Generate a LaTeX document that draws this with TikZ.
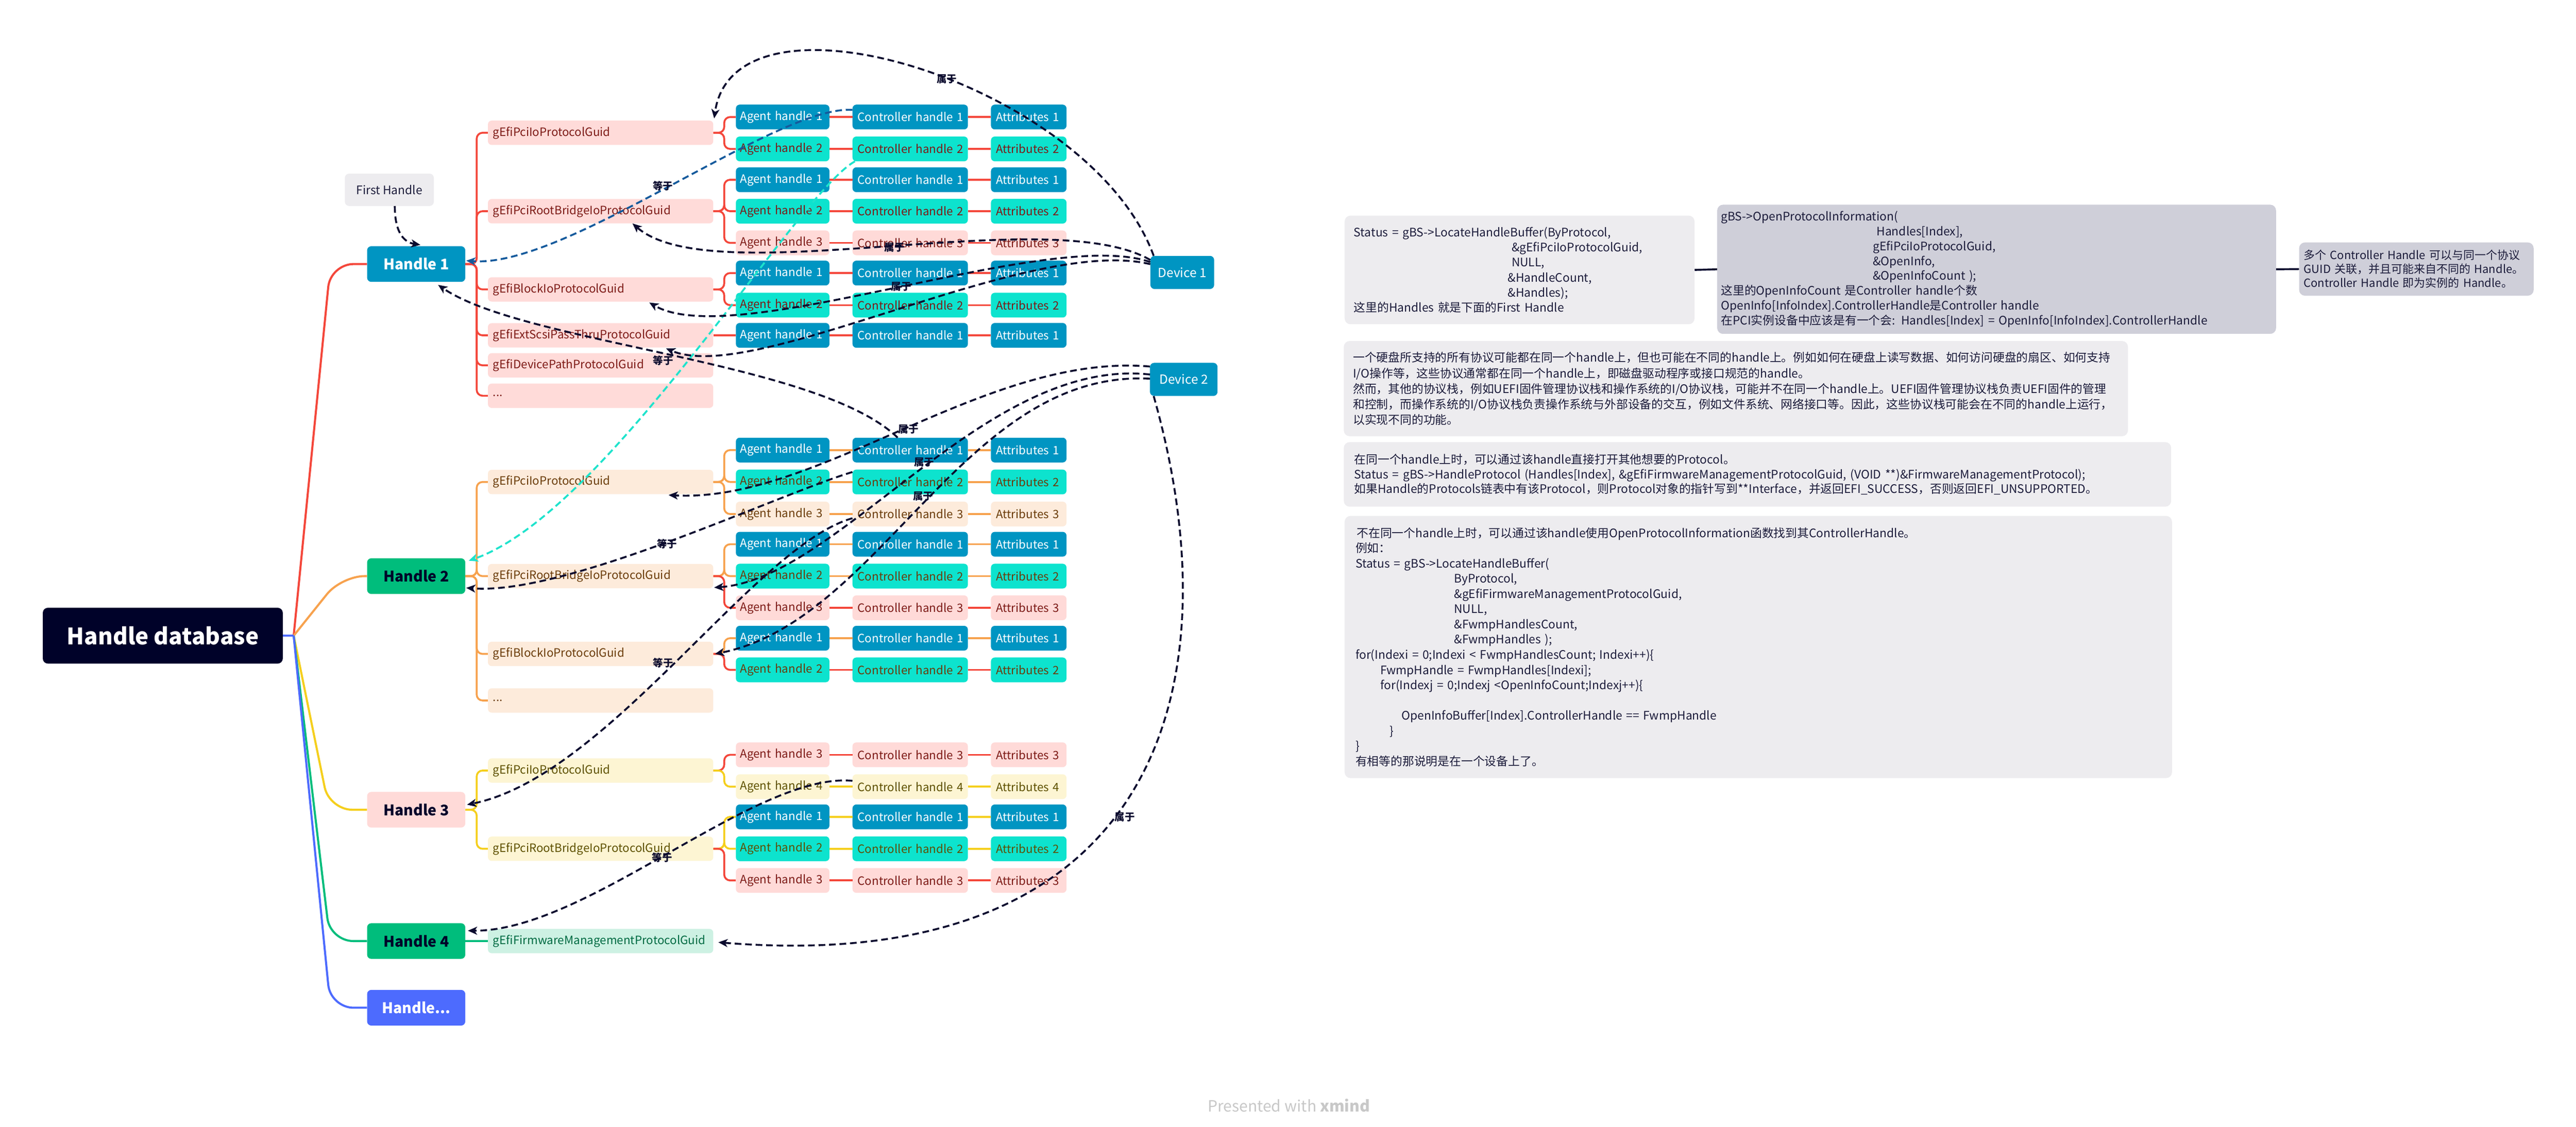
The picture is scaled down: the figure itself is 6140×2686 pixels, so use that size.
\documentclass[tikz,border=0pt]{standalone}
\usepackage{fontspec}
\setmainfont{Noto Sans CJK SC}
\usetikzlibrary{arrows.meta,calc}
\definecolor{navy}{HTML}{000229}
\definecolor{ink}{HTML}{1B1B3A}
\definecolor{relc}{HTML}{0B0B2E}
\definecolor{hblue}{HTML}{0095C2}
\definecolor{hgreen}{HTML}{00BD7C}
\definecolor{hpink}{HTML}{FFDAD8}
\definecolor{hmore}{HTML}{4D6BFE}
\definecolor{tealbox}{HTML}{0DE3CE}
\definecolor{lred}{HTML}{F4473B}
\definecolor{lorange}{HTML}{F7A24E}
\definecolor{lyellow}{HTML}{F5CF1D}
\definecolor{lgreen}{HTML}{00BD7C}
\definecolor{lblue}{HTML}{4D6BFE}
\definecolor{gfa}{HTML}{FFDBD9}
\definecolor{gfb}{HTML}{FDEBDB}
\definecolor{gfc}{HTML}{FDF5D3}
\definecolor{gfd}{HTML}{CDF1E3}
\definecolor{tca}{HTML}{7D1A16}
\definecolor{tcb}{HTML}{6B3C0A}
\definecolor{tcc}{HTML}{5E5000}
\definecolor{tcd}{HTML}{006A42}
\definecolor{boxl}{HTML}{EDECEF}
\definecolor{boxd}{HTML}{CFCFD9}
\definecolor{relblue}{HTML}{155A9C}
\definecolor{relcyan}{HTML}{1EE3CC}
\definecolor{wm}{HTML}{C8C8C8}
\tikzset{
 conn/.style={line width=4.5pt},
 rootline/.style={line width=5pt, rounded corners=55pt},
 spine/.style={line width=4.5pt, rounded corners=14pt},
 nbox/.style={rectangle, rounded corners=9pt, inner sep=0pt, font=\fontsize{27.5}{33}\selectfont, align=left},
 agentbox/.style={nbox, inner xsep=10pt, text width=203pt, minimum height=59pt},
 ctrlbox/.style={nbox, inner xsep=12pt, text width=251pt, minimum height=59pt},
 attrbox/.style={nbox, inner xsep=12pt, text width=156pt, minimum height=59pt},
 guidbox/.style={nbox, inner xsep=12pt, text width=513pt, minimum height=58pt},
 hbox/.style={rectangle, rounded corners=10pt, inner sep=0pt, minimum width=234pt, minimum height=85pt, font=\bfseries\fontsize{35}{38}\selectfont},
 devbox/.style={rectangle, rounded corners=10pt, inner sep=0pt, fill=hblue, text=white, minimum height=79pt, font=\fontsize{30}{32}\selectfont},
 tbox/.style={rectangle, rounded corners=14pt, inner ysep=0pt, align=left, text=ink, font=\fontsize{28}{36}\selectfont},
 rel/.style={draw=relc, line width=4.5pt, dash pattern=on 16pt off 9pt, -{Stealth[length=22pt,width=19pt,inset=6pt]}},
 rlab/.style={font=\bfseries\fontsize{24}{24}\selectfont, text=relc, inner sep=1pt},
}
\newcommand\mkrow[6]{%
 \node[agentbox,fill=#3,text=#4] (a#1) at (1865.5,#2) {\mbox{Agent handle #5}};
 \node[ctrlbox,fill=#3,text=#4] (c#1) at (2169.5,#2) {\mbox{Controller handle #5}};
 \node[attrbox,fill=#3,text=#4] (t#1) at (2452,#2) {\mbox{Attributes #5}};
 \draw[conn,draw=#6] (a#1.east) -- (c#1.west);
 \draw[conn,draw=#6] (c#1.east) -- (t#1.west);
}
\begin{document}
\begin{tikzpicture}[x=1pt,y=-1pt]
\useasboundingbox (0,0) rectangle (6140,2686);
\fill[white] (0,0) rectangle (6140,2686);

% root and handles
\node[rectangle, rounded corners=12pt, fill=navy, text=white, minimum width=572pt, minimum height=133pt, font=\bfseries\fontsize{54}{58}\selectfont] (root) at (388,1515.5) {Handle database};
\coordinate (rb) at (700,1515.5);
\node[hbox, fill=hblue, text=white] (h1) at (992,629.5) {Handle 1};
\node[hbox, fill=hgreen, text=navy] (h2) at (992,1373.5) {Handle 2};
\node[hbox, fill=hpink, text=navy] (h3) at (992,1930.5) {Handle 3};
\node[hbox, fill=hgreen, text=navy] (h4) at (992,2243.5) {Handle 4};
\node[hbox, fill=hmore, text=white] (h5) at (992,2402.5) {Handle...};
\node[rectangle, rounded corners=10pt, fill=boxl, text=ink, minimum width=212pt, minimum height=77pt, font=\fontsize{28}{30}\selectfont] (fh) at (928,452.5) {First Handle};

\draw[rootline,lred] (rb) -- ($(h1.west)+(-87,0)$) -- (h1.west);
\draw[rootline,lorange] (rb) -- ($(h2.west)+(-61,0)$) -- (h2.west);
\draw[rootline,lyellow] (rb) -- ($(h3.west)+(-90,0)$) -- (h3.west);
\draw[rootline,lgreen] (rb) -- ($(h4.west)+(-88,0)$) -- (h4.west);
\draw[rootline,lblue] (rb) -- ($(h5.west)+(-87,0)$) -- (h5.west);
\draw[line width=5pt,lblue] (root.east) -- (rb);

% GUID nodes
\node[guidbox,fill=gfa,text=tca] (g1a) at (1431.5,316.5) {gEfiPciIoProtocolGuid};
\node[guidbox,fill=gfa,text=tca] (g1b) at (1431.5,503.5) {gEfiPciRootBridgeIoProtocolGuid};
\node[guidbox,fill=gfa,text=tca] (g1c) at (1431.5,690) {gEfiBlockIoProtocolGuid};
\node[guidbox,fill=gfa,text=tca] (g1d) at (1431.5,799.5) {gEfiExtScsiPassThruProtocolGuid};
\node[guidbox,fill=gfa,text=tca] (g1e) at (1431.5,871) {gEfiDevicePathProtocolGuid};
\node[guidbox,fill=gfa,text=tca] (g1f) at (1431.5,943.5) {...};
\node[guidbox,fill=gfb,text=tcb] (g2a) at (1431.5,1149) {gEfiPciIoProtocolGuid};
\node[guidbox,fill=gfb,text=tcb] (g2b) at (1431.5,1373.5) {gEfiPciRootBridgeIoProtocolGuid};
\node[guidbox,fill=gfb,text=tcb] (g2c) at (1431.5,1559) {gEfiBlockIoProtocolGuid};
\node[guidbox,fill=gfb,text=tcb] (g2d) at (1431.5,1670) {...};
\node[guidbox,fill=gfc,text=tcc] (g3a) at (1431.5,1837) {gEfiPciIoProtocolGuid};
\node[guidbox,fill=gfc,text=tcc] (g3b) at (1431.5,2023.5) {gEfiPciRootBridgeIoProtocolGuid};
\node[guidbox,fill=gfd,text=tcd] (g4a) at (1431.5,2243.5) {gEfiFirmwareManagementProtocolGuid};

\foreach \g in {g1a,g1b,g1c,g1d,g1e,g1f}{\draw[spine,lred] (h1.east) -- ++(27,0) |- (\g.west);}
\foreach \g in {g2a,g2b,g2c,g2d}{\draw[spine,lorange] (h2.east) -- ++(27,0) |- (\g.west);}
\foreach \g in {g3a,g3b}{\draw[spine,lyellow] (h3.east) -- ++(27,0) |- (\g.west);}
\draw[spine,lgreen] (h4.east) -- (g4a.west);

% rows
\mkrow{11}{279}{hblue}{white}{1}{lred}
\mkrow{12}{355}{tealbox}{tca}{2}{lred}
\mkrow{13}{428.5}{hblue}{white}{1}{lred}
\mkrow{14}{503.5}{tealbox}{tca}{2}{lred}
\mkrow{15}{579}{hpink}{tca}{3}{lred}
\mkrow{16}{651}{hblue}{white}{1}{lred}
\mkrow{17}{727.5}{tealbox}{tca}{2}{lred}
\mkrow{18}{799.5}{hblue}{white}{1}{lred}
\mkrow{21}{1073}{hblue}{white}{1}{lorange}
\mkrow{22}{1149}{tealbox}{tcb}{2}{lorange}
\mkrow{23}{1225.5}{gfb}{tcb}{3}{lorange}
\mkrow{24}{1297.5}{hblue}{white}{1}{lorange}
\mkrow{25}{1373.5}{tealbox}{tcb}{2}{lorange}
\mkrow{26}{1449}{hpink}{tca}{3}{lred}
\mkrow{27}{1521.5}{hblue}{white}{1}{lorange}
\mkrow{28}{1597}{tealbox}{tcb}{2}{lred}
\mkrow{31}{1799.5}{hpink}{tca}{3}{lred}
\mkrow{32}{1875.5}{gfc}{tcc}{4}{lyellow}
\mkrow{33}{1947.5}{hblue}{white}{1}{lyellow}
\mkrow{34}{2023.5}{tealbox}{tcc}{2}{lyellow}
\mkrow{35}{2099}{hpink}{tca}{3}{lred}

% brackets GUID -> agent
\foreach \a in {11,12}{\draw[spine,lred] (g1a.east) -- ++(26,0) |- (a\a.west);}
\foreach \a in {13,14,15}{\draw[spine,lred] (g1b.east) -- ++(26,0) |- (a\a.west);}
\foreach \a in {16,17}{\draw[spine,lred] (g1c.east) -- ++(26,0) |- (a\a.west);}
\draw[spine,lred] (g1d.east) -- (a18.west);
\foreach \a in {21,22,23}{\draw[spine,lorange] (g2a.east) -- ++(26,0) |- (a\a.west);}
\foreach \a in {24,25}{\draw[spine,lorange] (g2b.east) -- ++(26,0) |- (a\a.west);}
\draw[spine,lred] (g2b.east) -- ++(26,0) |- (a26.west);
\draw[spine,lorange] (g2c.east) -- ++(26,0) |- (a27.west);
\draw[spine,lred] (g2c.east) -- ++(26,0) |- (a28.west);
\draw[spine,lred] (g3a.east) -- ++(26,0) |- (a31.west);
\draw[spine,lyellow] (g3a.east) -- ++(26,0) |- (a32.west);
\foreach \a in {33,34}{\draw[spine,lyellow] (g3b.east) -- ++(26,0) |- (a\a.west);}
\draw[spine,lred] (g3b.east) -- ++(26,0) |- (a35.west);

% devices
\node[devbox, minimum width=152pt] (d1) at (2818,649.5) {Device 1};
\node[devbox, minimum width=161pt] (d2) at (2821.5,904.5) {Device 2};

% relationships
\draw[rel] ($(fh.south)+(13,0)$) .. controls +(0,65) and +(-38,-6) .. ($(h1.north)+(10,-3)$);
\draw[rel,draw=relblue] ($(c11.west)+(0,-17)$) .. controls (1850,250) and (1350,640) .. ($(h1.east)+(2,-8)$);
\draw[rel,draw=relcyan] ($(c12.south west)+(6,0)$) .. controls (1900,460) and (1450,1220) .. ($(h2.north east)+(8,6)$);
\draw[rel] ($(c21.north)+(-30,0)$) .. controls (1950,860) and (1250,820) .. ($(h1.south east)+(-65,7)$);
\draw[rel] ($(c22.north west)+(0,6)$) .. controls (1850,1180) and (1350,1420) .. ($(h2.east)+(2,28)$);
\draw[rel] ($(c23.west)+(0,10)$) .. controls (1800,1300) and (1450,1850) .. ($(h3.east)+(4,-12)$);
\draw[rel] ($(c32.west)+(0,-14)$) .. controls (1800,1840) and (1400,2220) .. ($(h4.north east)+(6,18)$);
\draw[rel] ($(d1.north west)+(8,0)$) .. controls (2600,200) and (1750,-60) .. ($(g1a.north east)+(2,-5)$);
\draw[rel] ($(d1.north west)+(0,10)$) .. controls (2500,480) and (1700,700) .. ($(g1b.south)+(76,0)$);
\draw[rel] ($(d1.north west)+(0,15)$) .. controls (2500,540) and (1750,840) .. ($(g1c.south)+(116,2)$);
\draw[rel] ($(d1.north west)+(0,20)$) .. controls (2450,560) and (1800,920) .. ($(g1d.south)+(156,2)$);
\draw[rel] ($(d2.north west)+(0,9)$) .. controls (2350,840) and (1950,1200) .. ($(g2a.south)+(162,2)$);
\draw[rel] ($(d2.north west)+(0,28)$) .. controls (2350,850) and (2000,1380) .. ($(g2b.south east)+(2,-2)$);
\draw[rel] ($(d2.north west)+(0,38)$) .. controls (2300,880) and (2100,1480) .. ($(g2c.east)+(4,0)$);
\draw[rel] ($(d2.south west)+(9,0)$) .. controls (2950,1650) and (2750,2330) .. ($(g4a.east)+(12,3)$);

\node[rlab] (L1) at (1580,443) {等于};
\node[rlab] (L2) at (1581,860) {等于};
\node[rlab] (L3) at (1590,1297) {等于};
\node[rlab] (L4) at (1581,1580) {等于};
\node[rlab] (L5) at (1578,2045) {等于};
\node[rlab] (L6) at (2257,189) {属于};
\node[rlab] (L7) at (2132,590) {属于};
\node[rlab] (L8) at (2148,683) {属于};
\node[rlab] (L9) at (2165,1023) {属于};
\node[rlab] (L10) at (2203,1102) {属于};
\node[rlab] (L11) at (2200,1183) {属于};
\node[rlab] (L12) at (2681,1948) {属于};

% right text boxes
\node[tbox, fill=boxl, minimum width=834pt, minimum height=259pt, inner xsep=22pt, text width=790pt] (bA) at (3622,643.5) {%
Status = gBS->LocateHandleBuffer(ByProtocol,\\
\hspace*{376pt}\&gEfiPciIoProtocolGuid,\\
\hspace*{376pt}NULL,\\
\hspace*{367pt}\&HandleCount,\\
\hspace*{367pt}\&Handles);\\
这里的Handles 就是下面的First Handle};
\node[tbox, fill=boxd, minimum width=1332pt, minimum height=308pt, inner xsep=9pt, text width=1314pt, font=\fontsize{28}{35.5}\selectfont] (bB) at (4759,642) {%
gBS->OpenProtocolInformation(\\
\hspace*{371pt}Handles[Index],\\
\hspace*{362pt}gEfiPciIoProtocolGuid,\\
\hspace*{362pt}\&OpenInfo,\\
\hspace*{362pt}\&OpenInfoCount );\\
这里的OpenInfoCount 是Controller handle个数\\
OpenInfo[InfoIndex].ControllerHandle是Controller handle\\
在PCI实例设备中应该是有一个会: Handles[Index] = OpenInfo[InfoIndex].ControllerHandle};
\node[tbox, fill=boxd, minimum width=559pt, minimum height=127pt, inner xsep=11pt, text width=537pt, font=\fontsize{27}{33}\selectfont] (bC) at (5759.5,641.5) {%
多个 Controller Handle 可以与同一个协议\\
GUID 关联，并且可能来自不同的 Handle。\\
Controller Handle 即为实例的 Handle。};
\draw[line width=4.5pt, navy] (bA.east) -- (bB.west);
\draw[line width=4.5pt, navy] (bB.east) -- (bC.west);

\node[tbox, fill=boxl, minimum width=1869pt, minimum height=227pt, inner xsep=22pt, text width=1825pt, font=\fontsize{28}{37}\selectfont] (bD) at (4137.5,926.5) {%
一个硬盘所支持的所有协议可能都在同一个handle上，但也可能在不同的handle上。例如如何在硬盘上读写数据、如何访问硬盘的扇区、如何支持\\
I/O操作等，这些协议通常都在同一个handle上，即磁盘驱动程序或接口规范的handle。\\
然而，其他的协议栈，例如UEFI固件管理协议栈和操作系统的I/O协议栈，可能并不在同一个handle上。UEFI固件管理协议栈负责UEFI固件的管理\\
和控制，而操作系统的I/O协议栈负责操作系统与外部设备的交互，例如文件系统、网络接口等。因此，这些协议栈可能会在不同的handle上运行，\\
以实现不同的功能。};
\node[tbox, fill=boxl, minimum width=1972pt, minimum height=154pt, inner xsep=25pt, text width=1922pt, font=\fontsize{28}{35}\selectfont] (bE) at (4189,1131) {%
在同一个handle上时，可以通过该handle直接打开其他想要的Protocol。\\
Status = gBS->HandleProtocol (Handles[Index], \&gEfiFirmwareManagementProtocolGuid, (VOID **)\&FirmwareManagementProtocol);\\
如果Handle的Protocols链表中有该Protocol，则Protocol对象的指针写到**Interface，并返回EFI\_SUCCESS，否则返回EFI\_UNSUPPORTED。};
\node[tbox, fill=boxl, minimum width=1972pt, minimum height=625pt, inner xsep=26pt, text width=1920pt, font=\fontsize{28}{36.3}\selectfont] (bF) at (4191,1542.5) {%
\hspace*{3pt}不在同一个handle上时，可以通过该handle使用OpenProtocolInformation函数找到其ControllerHandle。\\
例如：\\
Status = gBS->LocateHandleBuffer(\\
\hspace*{235pt}ByProtocol,\\
\hspace*{235pt}\&gEfiFirmwareManagementProtocolGuid,\\
\hspace*{235pt}NULL,\\
\hspace*{235pt}\&FwmpHandlesCount,\\
\hspace*{235pt}\&FwmpHandles );\\
for(Indexi = 0;Indexi < FwmpHandlesCount; Indexi++)\{\\
\hspace*{59pt}FwmpHandle = FwmpHandles[Indexi];\\
\hspace*{59pt}for(Indexj = 0;Indexj <OpenInfoCount;Indexj++)\{\\
\mbox{}\\
\hspace*{110pt}OpenInfoBuffer[Index].ControllerHandle == FwmpHandle\\
\hspace*{82pt}\}\\
\}\\
有相等的那说明是在一个设备上了。};

\node[text=wm, font=\fontsize{37}{37}\selectfont] (pw) at (3072,2636) {Presented with \textbf{xmind}};
\end{tikzpicture}
\end{document}
